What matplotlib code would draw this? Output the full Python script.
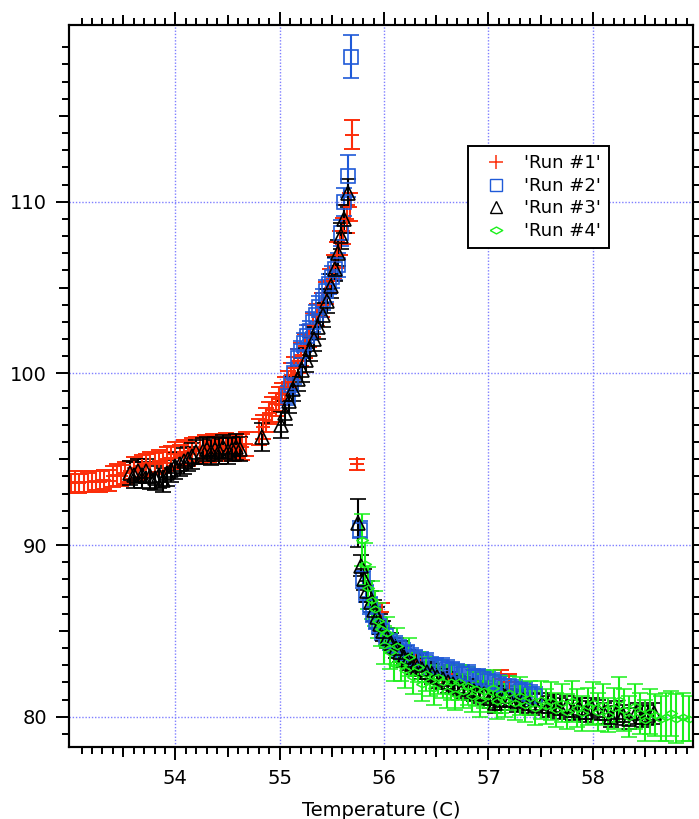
import matplotlib
matplotlib.use("Agg")
import numpy as np
import matplotlib.pyplot as plt
from matplotlib.ticker import FixedLocator
from matplotlib.lines import Line2D

# Run #1 (red +)
run1_t = [53.00, 53.04, 53.08, 53.12, 53.16, 53.20, 53.24, 53.28, 53.32, 53.36,
          53.40, 53.44, 53.48, 53.52, 53.56, 53.60, 53.64, 53.68, 53.72, 53.76,
          53.80, 53.84, 53.88, 53.92, 53.96, 54.00, 54.04, 54.08, 54.12, 54.16,
          54.20, 54.24, 54.28, 54.32, 54.36, 54.40, 54.44, 54.48, 54.52, 54.56,
          54.60, 54.64, 54.68, 54.80, 54.84, 54.87, 54.90, 54.93, 54.96, 54.99,
          55.02, 55.05, 55.08, 55.11, 55.14, 55.17, 55.20, 55.24, 55.28, 55.32,
          55.36, 55.40, 55.44, 55.48, 55.52, 55.55, 55.58, 55.61, 55.64, 55.67,
          55.69, 55.74, 55.98, 56.30, 56.62, 57.12, 57.20]
run1_v = [93.6, 93.7, 93.6, 93.7, 93.65, 93.7, 93.75, 93.7, 93.8, 93.75,
          94.0, 94.1, 94.05, 94.2, 94.3, 94.5, 94.4, 94.6, 94.7, 94.8,
          94.75, 94.9, 94.8, 95.0, 95.1, 95.3, 95.2, 95.4, 95.3, 95.5,
          95.6, 95.55, 95.7, 95.6, 95.75, 95.7, 95.6, 95.8, 95.7, 95.65,
          95.8, 95.7, 95.9, 96.6, 96.9, 97.3, 97.7, 97.9, 98.2, 98.5,
          98.8, 99.1, 99.5, 99.9, 100.3, 100.7, 101.1, 101.6, 102.2, 102.8,
          103.4, 104.0, 104.7, 105.4, 106.2, 106.9, 107.6, 108.3, 109.0, 109.7,
          113.9, 94.7, 86.1, 83.3, 82.5, 82.2, 82.0]
run1_e = [0.55, 0.6, 0.55, 0.6, 0.55, 0.6, 0.55, 0.6, 0.55, 0.6,
          0.6, 0.65, 0.6, 0.65, 0.6, 0.65, 0.6, 0.65, 0.6, 0.65,
          0.6, 0.65, 0.6, 0.7, 0.65, 0.7, 0.65, 0.7, 0.7, 0.75,
          0.7, 0.75, 0.7, 0.75, 0.7, 0.75, 0.7, 0.75, 0.7, 0.75,
          0.7, 0.75, 0.7, 0.75, 0.7, 0.7, 0.65, 0.7, 0.65, 0.7,
          0.65, 0.7, 0.65, 0.7, 0.65, 0.7, 0.65, 0.7, 0.65, 0.7,
          0.65, 0.7, 0.65, 0.7, 0.7, 0.75, 0.7, 0.75, 0.8, 0.8,
          0.85, 0.3, 0.5, 0.5, 0.5, 0.5, 0.5]

# Run #2 (blue squares)
run2_t = [55.08, 55.11, 55.14, 55.17, 55.20, 55.23, 55.26, 55.29, 55.32, 55.35,
          55.38, 55.41, 55.44, 55.47, 55.50, 55.53, 55.56, 55.59, 55.62, 55.65,
          55.68, 55.77, 55.80, 55.83, 55.86, 55.89, 55.92, 55.95, 55.98, 56.02,
          56.06, 56.10, 56.14, 56.18, 56.22, 56.26, 56.30, 56.35, 56.40, 56.45,
          56.50, 56.55, 56.60, 56.65, 56.70, 56.75, 56.80, 56.85, 56.90, 56.95,
          57.00, 57.05, 57.10, 57.15, 57.20, 57.25, 57.30, 57.35, 57.40, 57.45]
run2_v = [98.7, 99.3, 100.0, 100.9, 101.3, 101.8, 102.2, 102.5, 103.0, 103.4,
          103.9, 104.3, 104.8, 105.2, 105.6, 106.1, 106.3, 108.2, 110.0, 111.5,
          118.45, 90.9, 88.0, 87.2, 86.5, 86.0, 85.6, 85.3, 85.0, 84.7,
          84.4, 84.2, 84.0, 83.8, 83.7, 83.5, 83.4, 83.3, 83.2, 83.0,
          82.9, 82.9, 82.8, 82.7, 82.6, 82.5, 82.5, 82.3, 82.3, 82.2,
          82.1, 82.0, 81.9, 81.8, 81.8, 81.6, 81.5, 81.5, 81.3, 81.2]
run2_e = [0.55, 0.55, 0.6, 0.55, 0.6, 0.55, 0.6, 0.55, 0.6, 0.6,
          0.6, 0.6, 0.65, 0.6, 0.65, 0.65, 0.7, 0.75, 0.8, 1.2,
          1.25, 0.5, 0.5, 0.5, 0.5, 0.5, 0.5, 0.5, 0.5, 0.5,
          0.5, 0.5, 0.5, 0.5, 0.5, 0.5, 0.5, 0.5, 0.5, 0.5,
          0.5, 0.5, 0.5, 0.5, 0.5, 0.5, 0.5, 0.5, 0.5, 0.5,
          0.55, 0.55, 0.55, 0.55, 0.55, 0.55, 0.55, 0.55, 0.55, 0.55]

# Run #3 (black triangles)
run3_t = [53.56, 53.60, 53.64, 53.68, 53.72, 53.76, 53.80, 53.84, 53.88, 53.92,
          53.96, 54.00, 54.04, 54.08, 54.12, 54.16, 54.20, 54.26, 54.30, 54.34,
          54.38, 54.42, 54.46, 54.50, 54.54, 54.58, 54.62, 54.83, 55.01, 55.05,
          55.09, 55.13, 55.17, 55.21, 55.25, 55.29, 55.33, 55.37, 55.41, 55.45,
          55.49, 55.53, 55.56, 55.59, 55.62, 55.65,
          55.75, 55.78, 55.81, 55.84, 55.87, 55.90, 55.93, 55.96, 55.99, 56.03,
          56.07, 56.11, 56.15, 56.19, 56.23, 56.27, 56.31, 56.36, 56.41, 56.46,
          56.51, 56.56, 56.61, 56.66, 56.71, 56.76, 56.81, 56.86, 56.91, 56.96,
          57.01, 57.06, 57.11, 57.16, 57.21, 57.27, 57.33, 57.39, 57.45, 57.51,
          57.57, 57.63, 57.69, 57.75, 57.81, 57.87, 57.93, 57.99, 58.05, 58.11,
          58.17, 58.23, 58.29, 58.35, 58.41, 58.47, 58.53, 58.59]
run3_v = [94.2, 94.1, 94.3, 94.1, 94.3, 94.0, 93.9, 94.1, 93.8, 94.2,
          94.4, 94.6, 94.7, 94.9, 95.0, 95.2, 95.4, 95.5, 95.6, 95.4,
          95.6, 95.5, 95.7, 95.5, 95.6, 95.7, 95.6, 96.3, 97.0, 97.7,
          98.4, 99.1, 99.7, 100.2, 100.8, 101.4, 102.0, 102.7, 103.4, 104.2,
          105.1, 106.1, 107.0, 108.0, 109.0, 110.5,
          91.3, 88.8, 88.0, 87.3, 86.7, 86.2, 85.8, 85.4, 85.0, 84.6,
          84.3, 84.0, 83.8, 83.5, 83.3, 83.1, 83.0, 82.8, 82.6, 82.5,
          82.3, 82.2, 82.0, 81.9, 81.8, 81.7, 81.6, 81.5, 81.4, 81.3,
          81.1, 80.8, 81.0, 81.2, 81.0, 80.9, 81.0, 80.8, 80.7, 80.8,
          80.6, 80.7, 80.5, 80.6, 80.4, 80.5, 80.3, 80.5, 80.4, 80.2,
          80.0, 80.3, 80.1, 79.9, 80.2, 80.0, 80.1, 80.2]
run3_e = [0.7, 0.75, 0.7, 0.75, 0.7, 0.75, 0.7, 0.75, 0.7, 0.75,
          0.7, 0.75, 0.7, 0.75, 0.7, 0.75, 0.7, 0.75, 0.7, 0.75,
          0.7, 0.75, 0.7, 0.75, 0.7, 0.75, 0.7, 0.8, 0.75, 0.7,
          0.7, 0.7, 0.7, 0.7, 0.7, 0.7, 0.7, 0.7, 0.7, 0.7,
          0.7, 0.7, 0.75, 0.75, 0.8, 0.8,
          1.4, 0.6, 0.6, 0.6, 0.6, 0.6, 0.6, 0.6, 0.6, 0.6,
          0.6, 0.6, 0.6, 0.6, 0.6, 0.6, 0.6, 0.6, 0.6, 0.6,
          0.6, 0.6, 0.6, 0.6, 0.6, 0.6, 0.6, 0.6, 0.6, 0.6,
          0.6, 0.6, 0.6, 0.6, 0.6, 0.6, 0.6, 0.6, 0.6, 0.6,
          0.6, 0.6, 0.6, 0.6, 0.6, 0.6, 0.6, 0.6, 0.6, 0.6,
          0.6, 0.6, 0.6, 0.6, 0.6, 0.6, 0.6, 0.6]

# Run #4 (green diamonds)
run4_t = [55.79, 55.82, 55.85, 55.88, 55.91, 55.94, 55.97, 56.00, 56.03, 56.06,
          56.09, 56.12, 56.16, 56.20, 56.24, 56.28, 56.32, 56.36, 56.40, 56.44,
          56.48, 56.52, 56.56, 56.60, 56.64, 56.68, 56.72, 56.76, 56.80, 56.84,
          56.88, 56.92, 56.96, 57.00, 57.04, 57.08, 57.12, 57.16, 57.20, 57.25,
          57.30, 57.35, 57.40, 57.45, 57.50, 57.55, 57.60, 57.65, 57.70, 57.75,
          57.80, 57.85, 57.90, 57.95, 58.00, 58.05, 58.10, 58.15, 58.20, 58.25,
          58.30, 58.35, 58.40, 58.45, 58.50, 58.55, 58.60, 58.65, 58.70, 58.75,
          58.80, 58.86, 58.92]
run4_v = [90.3, 88.9, 87.5, 86.8, 86.3, 85.6, 85.1, 84.2, 84.9, 83.8,
          83.1, 84.1, 83.0, 82.7, 83.5, 82.3, 82.9, 81.9, 82.5, 82.1,
          81.7, 82.3, 82.0, 81.5, 82.0, 81.3, 82.0, 81.5, 81.8, 81.2,
          81.6, 81.0, 81.5, 81.2, 81.7, 80.9, 81.3, 81.0, 81.4, 80.8,
          81.2, 80.7, 81.1, 80.5, 81.0, 80.6, 80.9, 80.4, 80.8, 80.3,
          80.9, 80.5, 80.2, 80.6, 80.8, 80.3, 80.7, 80.1, 80.5, 81.0,
          80.4, 80.0, 80.6, 80.2, 79.8, 80.3, 80.1, 79.9, 80.0, 80.2,
          79.9, 80.0, 79.9]
run4_e = [1.5, 1.2, 1.2, 1.1, 1.0, 1.0, 1.0, 1.1, 0.9, 1.0,
          1.0, 1.1, 0.9, 1.0, 1.1, 1.0, 0.9, 1.0, 1.0, 0.9,
          1.0, 1.0, 0.9, 1.0, 1.0, 0.9, 1.0, 1.0, 1.1, 0.9,
          1.0, 1.0, 1.0, 0.9, 1.0, 1.0, 1.1, 1.0, 1.0, 1.0,
          1.1, 1.0, 1.0, 1.0, 1.1, 1.0, 1.1, 1.0, 1.1, 1.0,
          1.2, 1.1, 1.0, 1.1, 1.2, 1.1, 1.2, 1.0, 1.2, 1.3,
          1.2, 1.2, 1.3, 1.2, 1.2, 1.3, 1.2, 1.3, 1.4, 1.3,
          1.4, 1.4, 1.3]

run_labels = ["'Run #1'", "'Run #2'", "'Run #3'", "'Run #4'"]

red = '#fc2d0a'
blue = '#1f5ad8'
black = '#000000'
green = '#1cf01c'
# flat diamond used for run 4
diamond = [(-1, 0), (0, 0.55), (1, 0), (0, -0.55), (-1, 0)]

plt.rcParams['font.family'] = 'DejaVu Sans'
fig = plt.figure(figsize=(6.99, 8.19), dpi=100)
ax = fig.add_axes([0.0987, 0.0879, 0.8927, 0.8816])

common = dict(capsize=6, elinewidth=1.5, capthick=1.6, linestyle='none')
ax.errorbar(run1_t, run1_v, yerr=run1_e, marker='+', ms=9.5, mew=1.4, color=red, **common)
ax.errorbar(run2_t, run2_v, yerr=run2_e, marker='s', ms=9.5, mew=1.2, mfc='none', color=blue, **common)
ax.errorbar(run3_t, run3_v, yerr=run3_e, marker='^', ms=9.5, mew=1.2, mfc='none', color=black, **common)
ax.errorbar(run4_t, run4_v, yerr=run4_e, marker=diamond, ms=8.5, mew=1.1, mfc='none', color=green, **common)

ax.set_xlim(52.98, 58.96)
ax.set_ylim(78.24, 120.3)

# ticks: long on integers, short every tenth, medium on halves
ax.xaxis.set_major_locator(FixedLocator([54, 55, 56, 57, 58]))
ax.xaxis.set_minor_locator(FixedLocator(np.arange(531, 590) / 10))
ax.yaxis.set_major_locator(FixedLocator([80, 90, 100, 110]))
ax.yaxis.set_minor_locator(FixedLocator(np.arange(79, 120)))
ax.tick_params(which='both', direction='out', top=True, right=True, width=1.4, colors='black')
ax.tick_params(which='major', length=9.4, labelsize=14, pad=6.5)
ax.tick_params(which='minor', length=4.8)
for side in ['left', 'right', 'top', 'bottom']:
    ax.spines[side].set_linewidth(1.5)

mid_x = [53.5, 54.5, 55.5, 56.5, 57.5, 58.5]
mid_y = [85, 95, 105, 115]
for loc in ['bottom', 'top']:
    sec = ax.secondary_xaxis(loc)
    sec.set_xticks(mid_x)
    sec.tick_params(direction='out', length=7.2, width=1.4, labelbottom=False, labeltop=False)
    sec.spines[loc].set_linewidth(1.5)
for loc in ['left', 'right']:
    sec = ax.secondary_yaxis(loc)
    sec.set_yticks(mid_y)
    sec.tick_params(direction='out', length=7.2, width=1.4, labelleft=False, labelright=False)
    sec.spines[loc].set_linewidth(1.5)

ax.grid(True, which='major', color='#7f7fff', linestyle=(0, (1, 1.3)), linewidth=1.0)
ax.set_axisbelow(True)

ax.set_xlabel('Temperature (C)', fontsize=14, labelpad=9)

# legend shows markers only
handles = [
    Line2D([], [], linestyle='none', marker='+', ms=10, mew=1.1, color=red),
    Line2D([], [], linestyle='none', marker='s', ms=9, mew=1.0, mfc='none', color=blue),
    Line2D([], [], linestyle='none', marker='^', ms=8, mew=1.0, mfc='none', color=black),
    Line2D([], [], linestyle='none', marker=diamond, ms=9, mew=1.0, mfc='none', color=green),
]
leg = ax.legend(handles, run_labels, loc='upper left', bbox_to_anchor=(0.639, 0.832),
                borderaxespad=0, fontsize=13, frameon=True, fancybox=False,
                edgecolor='black', framealpha=1, borderpad=0.45, labelspacing=0.25,
                handlelength=2.2, handletextpad=0.45)
leg.get_frame().set_linewidth(1.4)

fig.savefig('out.png', dpi=100)
